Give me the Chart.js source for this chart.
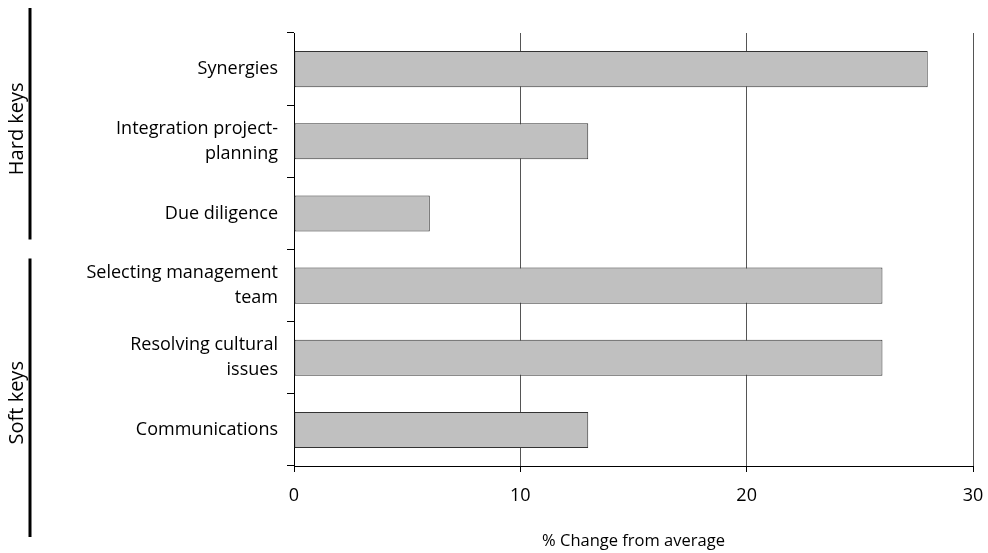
<!DOCTYPE html>
<html>
<head>
<meta charset="utf-8">
<script src="https://cdn.jsdelivr.net/npm/chart.js@4/dist/chart.umd.min.js"></script>
<style>
  html, body { margin: 0; padding: 0; background: #fff; }
  canvas { display: block; }
</style>
</head>
<body>
<canvas id="chart" width="988" height="553"></canvas>
<script>
// Key factors and their % change from average
const categories = [
  ['Synergies'],
  ['Integration project-', 'planning'],
  ['Due diligence'],
  ['Selecting management', 'team'],
  ['Resolving cultural', 'issues'],
  ['Communications']
];
const changeFromAverage = [28, 13, 6, 26, 26, 13];
const xTicks = [0, 10, 20, 30];
const groupNames = ['Hard keys', 'Soft keys'];
const groupSizes = [3, 3];
const xTitle = '% Change from average';

const FONT = '"Open Sans", "Noto Sans", sans-serif';

// Vertical bracket lines with rotated group names on the far left
const groupBrackets = {
  id: 'groupBrackets',
  afterDraw(chart, args, opts) {
    const y = chart.scales.y;
    const ctx = chart.ctx;
    const half = (y.getPixelForValue(1) - y.getPixelForValue(0)) / 2;
    let start = 0;
    groupSizes.forEach((size, g) => {
      const top = y.getPixelForValue(start) - half + opts.extend[g][0];
      const bottom = y.getPixelForValue(start + size - 1) + half + opts.extend[g][1];
      ctx.save();
      ctx.strokeStyle = '#000';
      ctx.lineWidth = 3;
      ctx.beginPath();
      ctx.moveTo(opts.lineX, top);
      ctx.lineTo(opts.lineX, bottom);
      ctx.stroke();
      ctx.translate(opts.textX, (top + bottom) / 2 + 5);
      ctx.rotate(-Math.PI / 2);
      ctx.fillStyle = '#000';
      ctx.font = '20px ' + FONT;
      ctx.textAlign = 'center';
      ctx.textBaseline = 'middle';
      ctx.fillText(groupNames[g], 0, 0);
      ctx.restore();
      start += size;
    });
  }
};

new Chart(document.getElementById('chart'), {
  type: 'bar',
  data: {
    labels: categories,
    datasets: [{
      data: changeFromAverage,
      backgroundColor: '#c0c0c0',
      borderColor: '#333',
      borderWidth: 1,
      borderSkipped: false,
      barPercentage: 0.5,
      categoryPercentage: 1
    }]
  },
  options: {
    indexAxis: 'y',
    responsive: false,
    animation: false,
    events: [],
    layout: { padding: { top: 33, right: 15, left: 0, bottom: 0 } },
    plugins: {
      legend: { display: false },
      tooltip: { enabled: false },
      groupBrackets: {
        lineX: 30,
        textX: 17,
        extend: [[-25, -10], [9, 71]]
      }
    },
    scales: {
      x: {
        min: 0,
        max: 30,
        afterBuildTicks(scale) { scale.ticks = xTicks.map(v => ({ value: v })); },
        afterFit(scale) {
          scale.height = 87;
          scale.paddingLeft = 0;
          scale.paddingRight = 0;
        },
        grid: {
          color: '#555',
          lineWidth: 1,
          drawTicks: true,
          tickLength: 6,
          tickColor: '#000'
        },
        border: { display: true, color: '#000', width: 1 },
        ticks: {
          color: '#000',
          padding: 13,
          font: { family: FONT, size: 18 }
        },
        title: {
          display: true,
          text: xTitle,
          color: '#000',
          font: { family: FONT, size: 16.5 },
          padding: { top: 0, bottom: 2 }
        }
      },
      y: {
        afterFit(scale) { scale.width = 294; },
        grid: {
          offset: true,
          drawOnChartArea: false,
          drawTicks: true,
          tickLength: 7,
          tickColor: '#000'
        },
        border: { display: true, color: '#000', width: 1 },
        ticks: {
          color: '#000',
          padding: 9,
          font: { family: FONT, size: 18, lineHeight: 1.39 }
        }
      }
    }
  },
  plugins: [groupBrackets]
});
</script>
</body>
</html>
